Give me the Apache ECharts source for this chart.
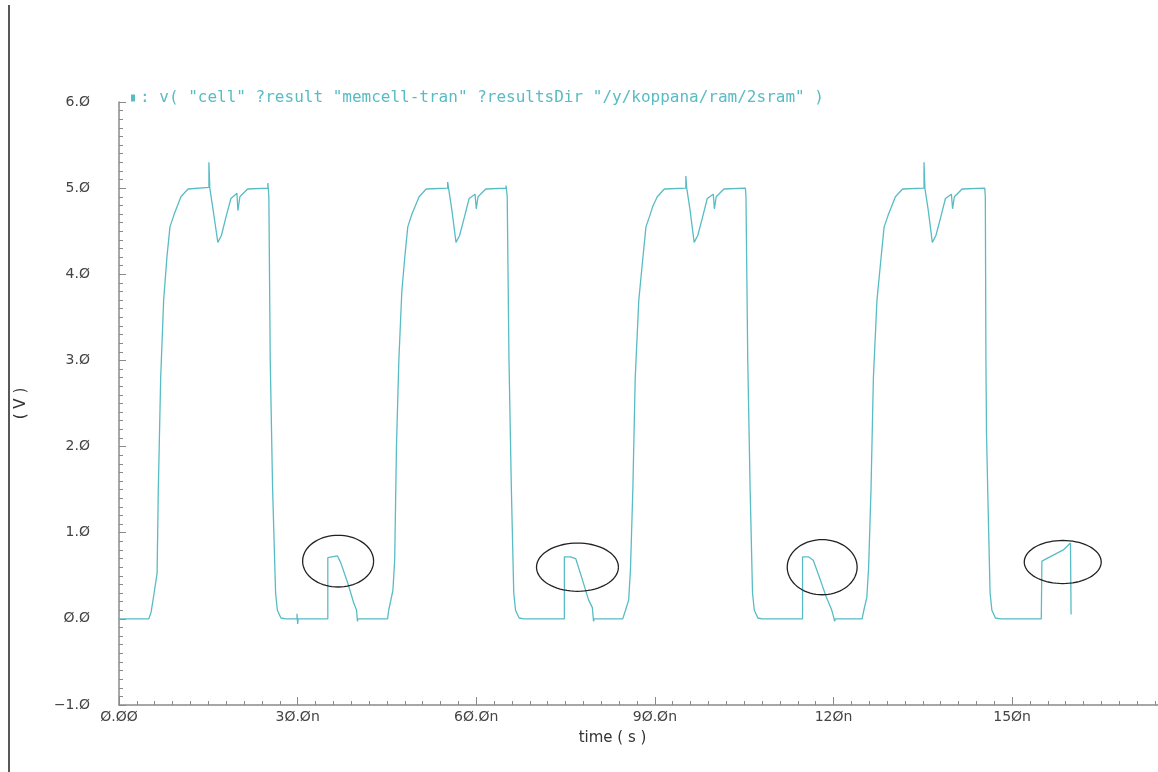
<!DOCTYPE html>
<html>
<head>
<meta charset="utf-8">
<script src="https://cdn.jsdelivr.net/npm/echarts@6/dist/echarts.min.js"></script>
<style>
html,body{margin:0;padding:0;background:#fff;}
#chart{width:1158px;height:772px;}
</style>
</head>
<body>
<div id="chart"></div>
<script>
// ---- data (time in ns, voltage in V) ----
const seriesName = ': v( "cell" ?result "memcell-tran" ?resultsDir "/y/koppana/ram/2sram" )';
const pulse1 = [
  [0,0],[5.0,0],[5.4,0.08],[5.9,0.3],[6.4,0.53],[6.6,1.5],[7.0,2.8],[7.5,3.7],[8.05,4.2],[8.56,4.55],
  [9.23,4.69],[10.4,4.9],[11.6,4.99],[15.1,5.01],[15.1,5.3],[15.25,5.0],[15.8,4.75],[16.6,4.37],[17.2,4.45],
  [17.95,4.66],[18.8,4.88],[19.8,4.94],[19.97,4.74],[20.3,4.9],[21.6,4.99],[25.0,5.0],[25.0,5.06],[25.17,4.9],
  [25.4,3.0],[25.8,1.5],[26.3,0.3],[26.6,0.1],[27.2,0.01],[28.0,0],[29.9,0],[29.9,0.06],[30.0,-0.06],[30.1,0],
  [35.07,0],[35.07,0.71],[35.3,0.73],[36.7,0.73],[37.25,0.65],[38.4,0.42],[39.4,0.19],[39.9,0.1],[40.05,-0.03],
  [40.1,0],[45.1,0],[45.3,0.1],[46.0,0.33],[46.3,0.68]
];
const pulse2 = [
  [46.6,2.0],[47.0,3.0],[47.5,3.8],[48.0,4.2],[48.5,4.55],[49.2,4.7],[50.4,4.9],[51.6,4.99],[55.2,5.0],
  [55.2,5.07],[55.35,5.0],[55.9,4.75],[56.6,4.37],[57.2,4.45],[58.0,4.66],[58.8,4.88],[59.8,4.93],[60.0,4.76],
  [60.3,4.9],[61.6,4.99],[65.0,5.0],[65.0,5.03],[65.2,4.9],[65.5,3.0],[65.9,1.5],[66.3,0.3],[66.6,0.1],
  [67.2,0.01],[68.0,0],[74.8,0],[74.8,0.72],[75.8,0.72],[76.7,0.70],[77.85,0.45],[78.86,0.22],[79.5,0.13],
  [79.7,-0.03],[79.8,0],[84.6,0],[85.07,0.1],[85.6,0.22],[85.9,0.57]
];
const pulse3 = [
  [86.3,1.5],[86.7,2.8],[87.3,3.7],[88.0,4.2],[88.5,4.55],[89.2,4.69],[89.6,4.78],[90.4,4.9],[91.6,4.99],
  [95.2,5.0],[95.2,5.14],[95.35,5.0],[95.9,4.75],[96.6,4.37],[97.2,4.45],[98.0,4.66],[98.8,4.88],[99.8,4.93],
  [100.0,4.76],[100.3,4.9],[101.6,4.99],[105.2,5.0],[105.3,4.9],[105.6,3.0],[106.0,1.5],[106.4,0.3],[106.7,0.1],
  [107.3,0.01],[108.0,0],[114.8,0],[114.8,0.72],[115.8,0.72],[116.6,0.68],[117.8,0.45],[118.8,0.25],[119.6,0.12],
  [119.8,0.08],[120.2,-0.03],[120.3,0],[124.8,0],[125.1,0.1],[125.6,0.25],[125.9,0.6]
];
const pulse4 = [
  [126.3,1.5],[126.7,2.8],[127.3,3.7],[128.0,4.2],[128.5,4.55],[129.2,4.69],[130.4,4.9],[131.6,4.99],
  [135.2,5.0],[135.2,5.3],[135.35,5.0],[135.9,4.75],[136.6,4.37],[137.2,4.45],[138.0,4.66],[138.8,4.88],
  [139.8,4.93],[140.0,4.76],[140.3,4.9],[141.6,4.99],[145.4,5.0],[145.5,4.9],[145.6,3.0],[145.7,2.15],
  [145.9,1.5],[146.3,0.3],[146.6,0.1],[147.2,0.01],[148.0,0],[154.9,0],[155.0,0.67],[158.6,0.8],[159.8,0.88],
  [159.9,0.05]
];
// annotation ellipses: [center t (ns), center V, radius t (ns), radius V]
const ellipses = [
  [36.8,0.67,5.96,0.30],
  [77.0,0.60,6.88,0.28],
  [118.1,0.60,5.87,0.32],
  [158.5,0.66,6.46,0.25]
];
const xTickValues = [0,30,60,90,120,150];
const xTickLabels = ['Ø.ØØ','3Ø.Øn','6Ø.Øn','9Ø.Øn','12Øn','15Øn'];
const yTickValues = [-1,0,1,2,3,4,5,6];
const yTickLabels = ['−1.Ø','Ø.Ø','1.Ø','2.Ø','3.Ø','4.Ø','5.Ø','6.Ø'];

const waveform = pulse1.concat(pulse2, pulse3, pulse4);
const lineColor = '#58bcc4';
const axisColor = '#8a8a8a';
const labelFont = 'DejaVu Sans';

function lookup(values, labels, v) {
  for (let i = 0; i < values.length; i++) if (Math.abs(values[i] - v) < 1e-6) return labels[i];
  return '';
}

const chart = echarts.init(document.getElementById('chart'), null, {renderer: 'canvas'});
chart.setOption({
  animation: false,
  backgroundColor: '#ffffff',
  grid: {left: 119, right: 0, top: 102, bottom: 67, containLabel: false},
  legend: {
    left: 126, top: 85,
    icon: 'rect', itemWidth: 4, itemHeight: 7,
    textStyle: {color: lineColor, fontFamily: 'DejaVu Sans Mono', fontSize: 16},
    data: [seriesName]
  },
  graphic: [{
    type: 'rect', left: 8, top: 5, shape: {width: 2, height: 767},
    style: {fill: '#555a55'}, silent: true
  }],
  xAxis: {
    type: 'value', min: 0, max: 174.5, interval: 30,
    name: 'time ( s )', nameLocation: 'middle', nameGap: 26,
    nameTextStyle: {color: '#333', fontFamily: labelFont, fontSize: 15, padding: [0, 52, 0, 0]},
    axisLine: {show: true, onZero: false, lineStyle: {color: axisColor, width: 1.5}},
    axisTick: {show: true, inside: true, length: 8, lineStyle: {color: axisColor}},
    minorTick: {show: true, splitNumber: 10, length: 4, lineStyle: {color: axisColor}},
    splitLine: {show: false},
    axisLabel: {
      color: '#444', fontFamily: labelFont, fontSize: 14, margin: 5,
      showMaxLabel: false,
      formatter: v => lookup(xTickValues, xTickLabels, v)
    }
  },
  yAxis: {
    type: 'value', min: -1, max: 6, interval: 1,
    name: '( V )', nameLocation: 'middle', nameRotate: 90, nameGap: 90,
    nameTextStyle: {color: '#333', fontFamily: labelFont, fontSize: 15},
    axisLine: {show: true, onZero: false, lineStyle: {color: axisColor, width: 1.5}},
    axisTick: {show: true, inside: true, length: 7, lineStyle: {color: axisColor}},
    minorTick: {show: true, splitNumber: 10, length: 4, lineStyle: {color: axisColor}},
    splitLine: {show: false},
    axisLabel: {
      color: '#444', fontFamily: labelFont, fontSize: 14, margin: 29,
      formatter: v => lookup(yTickValues, yTickLabels, v)
    }
  },
  series: [
    {
      name: seriesName, type: 'line', data: waveform,
      showSymbol: false, symbol: 'none',
      lineStyle: {color: lineColor, width: 1.3},
      itemStyle: {color: lineColor},
      z: 3
    },
    {
      name: 'annotations', type: 'custom', data: ellipses, z: 4,
      renderItem: function (params, api) {
        const c = api.coord([api.value(0), api.value(1)]);
        const s = api.size([api.value(2), api.value(3)]);
        const pts = [];
        for (let k = 0; k <= 72; k++) {
          const a = k / 72 * Math.PI * 2;
          pts.push([c[0] + s[0] * Math.cos(a), c[1] + s[1] * Math.sin(a)]);
        }
        return {type: 'polyline', shape: {points: pts}, style: {stroke: '#222', lineWidth: 1.3, fill: null}};
      }
    }
  ]
});
</script>
</body>
</html>
